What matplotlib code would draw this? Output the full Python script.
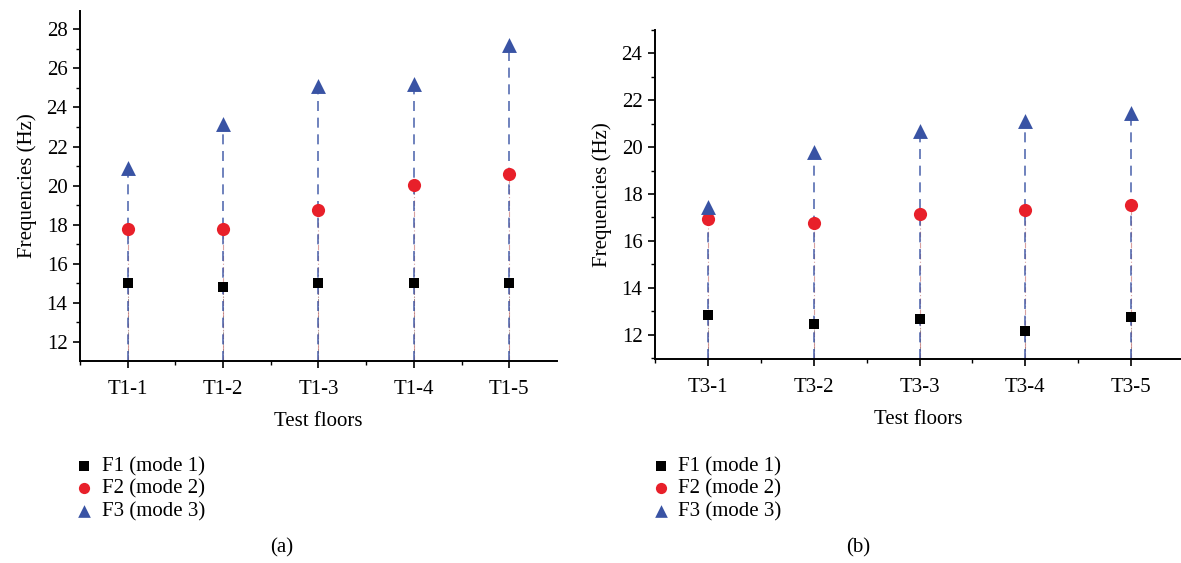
import numpy as np
import matplotlib
matplotlib.use("Agg")
import matplotlib.pyplot as plt
from matplotlib.ticker import MultipleLocator, FixedLocator

plt.rcParams['font.family'] = ['Liberation Serif', 'DejaVu Serif']

floors_a = ["T1-1", "T1-2", "T1-3", "T1-4", "T1-5"]
f1_a = [15.0, 14.8, 15.0, 15.0, 15.0]
f2_a = [17.8, 17.8, 18.75, 20.05, 20.6]
f3_a = [20.9, 23.15, 25.1, 25.2, 27.2]

floors_b = ["T3-1", "T3-2", "T3-3", "T3-4", "T3-5"]
f1_b = [12.85, 12.45, 12.65, 12.15, 12.75]
f2_b = [16.95, 16.75, 17.15, 17.3, 17.55]
f3_b = [17.45, 19.8, 20.7, 21.1, 21.45]

labels = ["F1 (mode 1)", "F2 (mode 2)", "F3 (mode 3)"]
BLACK, RED, BLUE = "#000000", "#e8202a", "#3953a4"

fig = plt.figure(figsize=(11.81, 5.63), dpi=100)
ax_a = fig.add_axes([0.0677, 0.3588, 0.4039, 0.6222])
ax_b = fig.add_axes([0.5546, 0.3623, 0.4454, 0.5844])


def draw(ax, floors, f1, f2, f3, ylim, xmax, ymaj):
    x = np.arange(1, len(floors) + 1)
    ymin = ylim[0]
    ax.vlines(x, ymin, f1, colors=BLACK, lw=0.6, linestyles=(0, (5, 2, 1, 2)), alpha=0.5, zorder=1)
    ax.vlines(x, ymin, f2, colors="#c87878", lw=0.8, linestyles=(0, (5, 2, 1, 2)), alpha=0.7, zorder=1)
    ax.vlines(x, ymin, f3, colors=BLUE, lw=1.2, linestyles=(0, (6, 4)), alpha=0.85, zorder=2)
    h1 = ax.scatter(x, f1, marker="s", s=60, color=BLACK, zorder=5, linewidths=0)
    h2 = ax.scatter(x, f2, marker="o", s=90, color=RED, zorder=5, linewidths=0)
    h3 = ax.scatter(x, f3, marker="^", s=115, color=BLUE, zorder=5, linewidths=0)
    ax.set_xlim(0.5, xmax)
    ax.set_ylim(*ylim)
    ax.set_xticks(x)
    ax.set_xticklabels(floors)
    ax.xaxis.set_minor_locator(FixedLocator(np.arange(0.5, xmax, 1.0)))
    ax.yaxis.set_minor_locator(MultipleLocator(1))
    ax.set_yticks(ymaj)
    for s in ["top", "right"]:
        ax.spines[s].set_visible(False)
    for s in ["left", "bottom"]:
        ax.spines[s].set_linewidth(1.4)
    ax.tick_params(which="major", direction="out", length=5, width=1.2, labelsize=15, pad=4)
    ax.tick_params(which="minor", direction="out", length=3, width=1.0)
    ax.tick_params(axis="x", which="major", pad=9)
    ax.set_xlabel("Test floors", fontsize=15, labelpad=9)
    ax.set_ylabel("Frequencies (Hz)", fontsize=15, labelpad=7)
    return h1, h2, h3


hs_a = draw(ax_a, floors_a, f1_a, f2_a, f3_a, (11.03, 28.95), 5.5, np.arange(12, 29, 2))
hs_b = draw(ax_b, floors_b, f1_b, f2_b, f3_b, (10.96, 25.0), 5.47, np.arange(12, 25, 2))

for hs, x0 in [(hs_a, 0.052), (hs_b, 0.540)]:
    fig.legend(hs, labels, loc="upper left", bbox_to_anchor=(x0, 0.207), frameon=False,
               fontsize=15, handletextpad=0.25, labelspacing=0.14, borderpad=0,
               handlelength=1.2, markerscale=0.85)

fig.text(282 / 1181, 1 - 548 / 563, "(a)", ha="center", va="center", fontsize=15)
fig.text(858 / 1181, 1 - 548 / 563, "(b)", ha="center", va="center", fontsize=15)

fig.savefig("out.png", dpi=100)
